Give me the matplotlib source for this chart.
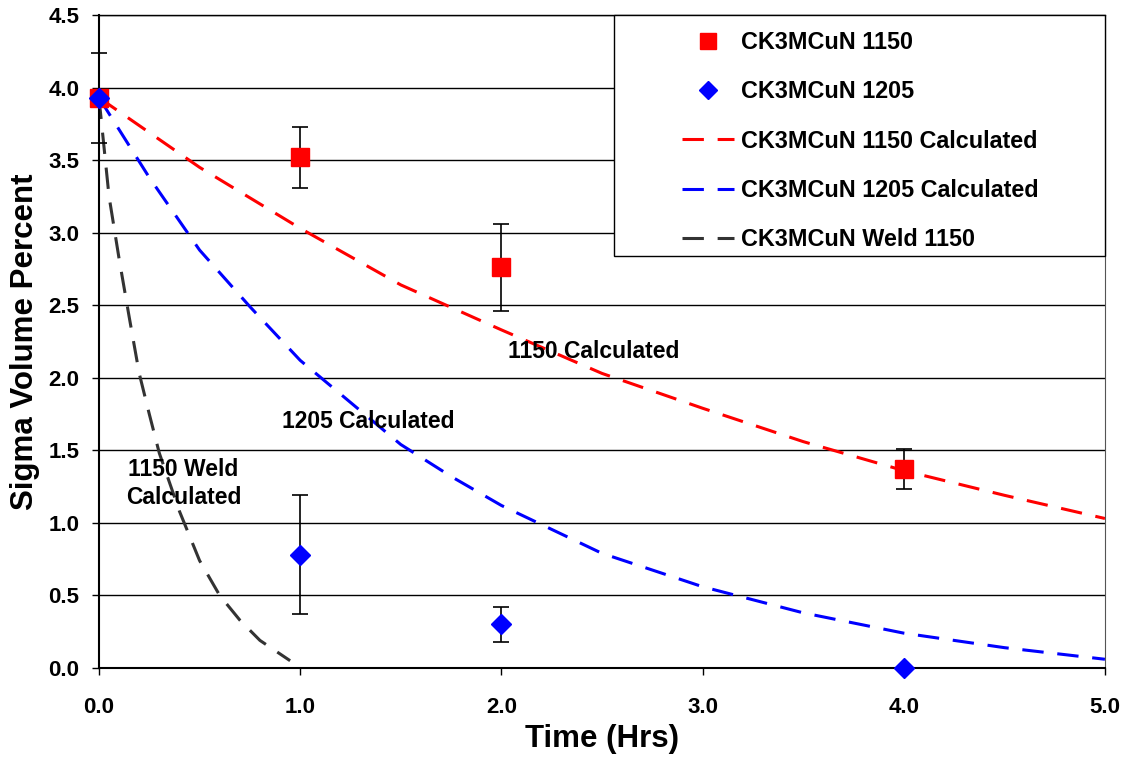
import matplotlib
matplotlib.use("Agg")
import matplotlib.pyplot as plt
import matplotlib.ticker as ticker
from matplotlib.patches import Rectangle
from matplotlib.container import ErrorbarContainer

plt.rcParams['font.family'] = ['Liberation Sans', 'DejaVu Sans']
plt.rcParams['font.weight'] = 'bold'

# measured points
t_1150 = [0.0, 1.0, 2.0, 4.0]
sigma_1150 = [3.93, 3.52, 2.76, 1.37]
err_1150 = [0.31, 0.21, 0.30, 0.14]

t_1205 = [0.0, 1.0, 2.0, 4.0]
sigma_1205 = [3.93, 0.78, 0.30, 0.0]
err_1205 = [0.0, 0.41, 0.12, 0.0]

# calculated curves
t_calc_1150 = [0.0, 0.5, 1.0, 1.5, 2.0, 2.5, 3.0, 3.5, 4.0, 4.5, 5.0]
calc_1150 = [3.93, 3.45, 3.03, 2.64, 2.33, 2.03, 1.79, 1.56, 1.36, 1.19, 1.03]

t_calc_1205 = [0.0, 0.25, 0.5, 0.75, 1.0, 1.25, 1.5, 1.75, 2.0, 2.5, 3.0, 3.5, 4.0, 4.5, 5.0]
calc_1205 = [3.93, 3.38, 2.88, 2.49, 2.12, 1.83, 1.54, 1.32, 1.12, 0.79, 0.56, 0.38, 0.24, 0.14, 0.06]

t_calc_weld = [0.0, 0.05, 0.1, 0.15, 0.2, 0.25, 0.3, 0.4, 0.5, 0.6, 0.7, 0.8, 0.95]
calc_weld = [3.93, 3.25, 2.82, 2.42, 2.03, 1.75, 1.48, 1.08, 0.74, 0.50, 0.33, 0.19, 0.05]

fig = plt.figure(figsize=(11.26, 7.64), dpi=100)
ax = fig.add_axes([0.0879, 0.1257, 0.8934, 0.8547])

ax.plot(t_calc_1150, calc_1150, color='#ff0000', lw=2.2, dashes=(7, 4.5), zorder=2,
        label='CK3MCuN 1150 Calculated')
ax.plot(t_calc_1205, calc_1205, color='#0000ff', lw=2.2, dashes=(7, 4.5), zorder=2,
        label='CK3MCuN 1205 Calculated')
ax.plot(t_calc_weld, calc_weld, color='#333333', lw=2.2, dashes=(7, 4.5), zorder=2,
        label='CK3MCuN Weld 1150')

eb1 = ax.errorbar(t_1150, sigma_1150, yerr=err_1150, fmt='s', color='#ff0000', ms=13,
                  ecolor='black', elinewidth=1.2, capsize=6, capthick=1.2, zorder=3,
                  label='CK3MCuN 1150')
eb2 = ax.errorbar(t_1205, sigma_1205, yerr=err_1205, fmt='D', color='#0000ff', ms=10,
                  ecolor='black', elinewidth=1.2, capsize=6, capthick=1.2, zorder=4,
                  label='CK3MCuN 1205')
for eb in (eb1, eb2):
    for art in eb.get_children():
        art.set_clip_on(False)

ax.set_xlim(0, 5)
ax.set_ylim(0, 4.5)
ax.xaxis.set_major_locator(ticker.MultipleLocator(1.0))
ax.yaxis.set_major_locator(ticker.MultipleLocator(0.5))
ax.xaxis.set_major_formatter(ticker.StrMethodFormatter('{x:.1f}'))
ax.yaxis.set_major_formatter(ticker.StrMethodFormatter('{x:.1f}'))
ax.tick_params(axis='both', labelsize=16, direction='out', length=5, width=1)
ax.tick_params(axis='y', pad=9)
ax.tick_params(axis='x', pad=16)
ax.yaxis.grid(True, color='black', lw=1)
ax.set_axisbelow(True)
for s in ['left', 'bottom']:
    ax.spines[s].set_linewidth(1.5)
ax.spines['top'].set_linewidth(1)
ax.spines['right'].set_color('#555555')

ax.set_xlabel('Time (Hrs)', fontsize=22.5, fontweight='bold', labelpad=4)
ax.set_ylabel('Sigma Volume Percent', fontsize=22.5, fontweight='bold', labelpad=6)

ax.text(2.46, 2.18, '1150 Calculated', fontsize=16.5, fontweight='bold', ha='center', va='center')
ax.text(1.34, 1.70, '1205 Calculated', fontsize=16.5, fontweight='bold', ha='center', va='center')
ax.text(0.42, 1.27, '1150 Weld\nCalculated', fontsize=16.5, fontweight='bold', ha='center', va='center',
        linespacing=1.3)

# legend frame drawn as a box, entries placed inside it
ax.add_patch(Rectangle((0.512, 0.631), 0.488, 0.369, transform=ax.transAxes,
                       facecolor='white', edgecolor='black', lw=1, zorder=5, clip_on=False))
handles, labels = ax.get_legend_handles_labels()
order = [3, 4, 0, 1, 2]
leg_h = []
for i in order:
    hd = handles[i]
    leg_h.append(hd[0] if isinstance(hd, ErrorbarContainer) else hd)
leg = ax.legend(leg_h, [labels[i] for i in order], loc='upper left',
                bbox_to_anchor=(0.580, 0.975), fontsize=16.8, frameon=False,
                borderaxespad=0, borderpad=0, labelspacing=1.12, handlelength=2.23,
                handletextpad=0.3, markerscale=0.9)
leg.set_zorder(6)

fig.savefig('out.png', dpi=100)
